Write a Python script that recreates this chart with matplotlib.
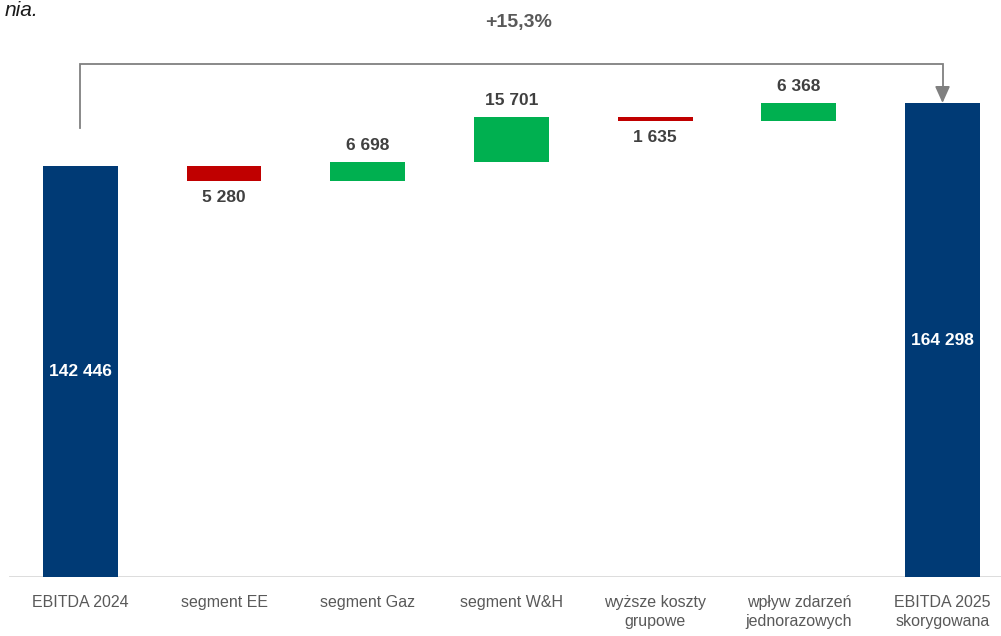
import numpy as np
import matplotlib
matplotlib.use("Agg")
import matplotlib.pyplot as plt

categories = ["EBITDA 2024", "segment EE", "segment Gaz", "segment W&H",
              "wyższe koszty\ngrupowe", "wpływ zdarzeń\njednorazowych",
              "EBITDA 2025\nskorygowana"]
start_value = 142446
deltas = [-5280, 6698, 15701, -1635, 6368]
end_value = 164298
labels = ["142 446", "5 280", "6 698", "15 701", "1 635", "6 368", "164 298"]
growth_label = "+15,3%"

navy = "#003A75"
red = "#C00000"
green = "#00B050"
label_col = "#404040"
tick_col = "#595959"

# waterfall geometry
bottoms = [0]
heights = [start_value]
colors = [navy]
level = start_value
for d in deltas:
    bottoms.append(min(level, level + d))
    heights.append(abs(d))
    colors.append(green if d > 0 else red)
    level += d
bottoms.append(0)
heights.append(end_value)
colors.append(navy)

fig = plt.figure(figsize=(10.01, 6.36), dpi=100)
ax = fig.add_axes([0, 59 / 636, 1, 577 / 636])
x = np.arange(len(categories))
ax.bar(x, heights, bottom=bottoms, width=0.52, color=colors, zorder=2)
ax.set_xlim(-0.56, 6.407)
ax.set_ylim(0, 200000)

for s in ax.spines.values():
    s.set_visible(False)
ax.set_yticks([])
ax.axhline(0, xmin=10 / 1001, xmax=1, color="#D9D9D9", lw=2, zorder=1)
ax.set_xticks(x)
ax.set_xticklabels(categories, fontsize=11.5, color=tick_col,
                   family=["Liberation Sans Narrow", "Liberation Sans", "DejaVu Sans"],
                   linespacing=1.3, va="top")
ax.tick_params(axis="x", length=0, pad=13)

lab_font = dict(fontsize=12.5, fontweight="bold", color=label_col,
                family=["Liberation Sans", "DejaVu Sans"], ha="center")
# totals inside the bars
ax.text(0, start_value * 0.5, labels[0], va="center", **{**lab_font, "color": "white"})
ax.text(6, end_value * 0.5, labels[6], va="center", **{**lab_font, "color": "white"})
# deltas above / below
for i, d in enumerate(deltas, start=1):
    if d > 0:
        ax.text(i, bottoms[i] + heights[i] + 3000, labels[i], va="bottom", **lab_font)
    else:
        ax.text(i, bottoms[i] - 3000, labels[i], va="top", **lab_font)

# bracket with arrow
y_top = 177800
ax.plot([0, 0, 6, 6], [155600, y_top, y_top, end_value + 4000],
        color="#808080", lw=1.3, zorder=3, solid_joinstyle="miter")
ax.annotate("", xy=(6, end_value), xytext=(6, end_value + 4500),
            arrowprops=dict(arrowstyle="-|>,head_width=0.45,head_length=1.0",
                            color="#808080", lw=1.3, shrinkA=0, shrinkB=0))
ax.text(3.05, 192200, growth_label, fontsize=14, fontweight="bold", color=tick_col,
        family=["Liberation Sans", "DejaVu Sans"], ha="center", va="center")

fig.text(38 / 1001, 1 - 11 / 636, "nia.", fontsize=15, style="italic",
         color="#1a1a1a", family=["Liberation Sans", "DejaVu Sans"],
         ha="right", va="center")

fig.savefig("out.png", dpi=100)
